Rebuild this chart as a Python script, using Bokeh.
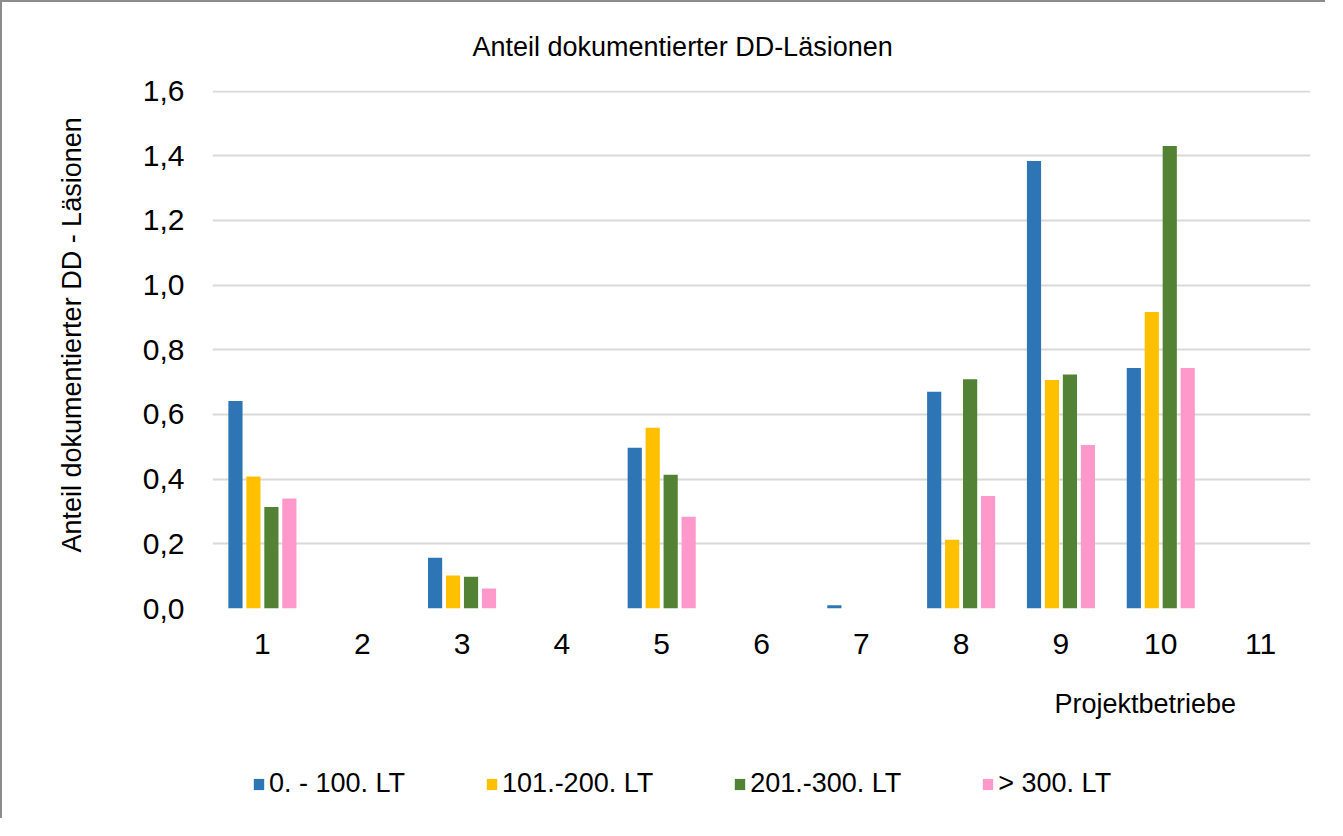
from bokeh.plotting import figure
from bokeh.layouts import column
from bokeh.models import (Range1d, FixedTicker, CustomJSTickFormatter, Legend, LegendItem,
                          Title, ColumnDataSource)
from bokeh.transform import dodge
from bokeh.embed import file_html
from bokeh.resources import INLINE

# ---- data ----
betriebe = [1, 2, 3, 4, 5, 6, 7, 8, 9, 10, 11]
lt_0_100 = [0.642, 0.0, 0.157, 0.0, 0.497, 0.0, 0.010, 0.670, 1.384, 0.744, 0.0]
lt_101_200 = [0.408, 0.0, 0.102, 0.0, 0.559, 0.0, 0.0, 0.213, 0.707, 0.917, 0.0]
lt_201_300 = [0.314, 0.0, 0.098, 0.0, 0.414, 0.0, 0.0, 0.709, 0.724, 1.430, 0.0]
lt_300_plus = [0.340, 0.0, 0.062, 0.0, 0.284, 0.0, 0.0, 0.348, 0.506, 0.744, 0.0]
series_names = ["0. - 100. LT", "101.-200. LT", "201.-300. LT", "> 300. LT"]
series_cols = ["a", "b", "c", "d"]
colors = ["#2E75B6", "#FFC000", "#548235", "#FF99CC"]
y_ticks = [0.0, 0.2, 0.4, 0.6, 0.8, 1.0, 1.2, 1.4, 1.6]

title_text = "Anteil dokumentierter DD-Läsionen"
y_title = "Anteil dokumentierter DD - Läsionen"
x_title = "Projektbetriebe"

FONT = "Liberation Sans"
BORDER = "2px solid #8c8c8c"

src = ColumnDataSource(dict(x=betriebe, a=lt_0_100, b=lt_101_200, c=lt_201_300, d=lt_300_plus))

# ---- main chart ----
p = figure(width=1325, height=752, output_backend="svg", toolbar_location=None,
           x_range=Range1d(0.5, 11.5), y_range=Range1d(0, 1.602),
           min_border_left=210, min_border_right=17, min_border_top=88, min_border_bottom=146)
p.styles = {"border-top": BORDER, "border-left": BORDER}
p.outline_line_color = None
p.background_fill_color = "white"
p.border_fill_color = "white"

offsets = [-0.27, -0.09, 0.09, 0.27]
for col, off, colr in zip(series_cols, offsets, colors):
    p.vbar(x=dodge("x", off, range=p.x_range), top=col, width=0.142, bottom=0,
           source=src, fill_color=colr, line_color=None)

p.xaxis.ticker = FixedTicker(ticks=betriebe)
p.yaxis.ticker = FixedTicker(ticks=y_ticks)
p.yaxis.formatter = CustomJSTickFormatter(code="return tick.toFixed(1).replace('.', ',');")
for ax in (p.xaxis[0], p.yaxis[0]):
    ax.axis_line_color = None
    ax.major_tick_line_color = None
    ax.minor_tick_line_color = None
    ax.major_tick_out = 0
    ax.major_tick_in = 0
    ax.major_label_text_font = FONT
    ax.major_label_text_font_size = "30px"
    ax.major_label_text_color = "#000000"
p.yaxis.major_label_standoff = 28
p.xaxis.major_label_standoff = 25

p.xgrid.grid_line_color = None
p.ygrid.ticker = FixedTicker(ticks=y_ticks)
p.ygrid.grid_line_color = "#d9d9d9"
p.ygrid.grid_line_width = 2

t_top = Title(text=title_text, align="left", offset=260, standoff=55, vertical_align="middle",
              text_font=FONT, text_font_size="27px", text_font_style="normal",
              text_color="#000000")
p.add_layout(t_top, "above")

t_x = Title(text=x_title, align="left", offset=842, standoff=60,
            text_font=FONT, text_font_size="27px", text_font_style="normal",
            text_color="#000000")
p.add_layout(t_x, "below")

t_y = Title(text=y_title, align="left", offset=56, standoff=104, vertical_align="middle",
            text_font=FONT, text_font_size="27px", text_font_style="normal",
            text_color="#000000")
p.add_layout(t_y, "left")

# ---- legend strip (its frame lines up with the main frame) ----
lg = figure(width=1325, height=66, output_backend="svg", toolbar_location=None,
            x_range=Range1d(0, 1), y_range=Range1d(0, 1), x_axis_type=None, y_axis_type=None,
            min_border=0)
lg.styles = {"border-left": BORDER}
lg.outline_line_color = None
lg.grid.grid_line_color = None
lg.background_fill_color = "white"
lg.border_fill_color = "white"
# one invisible point outside the strip's range so that legend swatches are drawn
leg_src = ColumnDataSource(dict(x=[5.0], top=[0.0]))
items = []
for name, colr in zip(series_names, colors):
    r = lg.vbar(x="x", top="top", width=0.1, source=leg_src, fill_color=colr, line_color=None)
    items.append(LegendItem(label=name, renderers=[r]))
legend = Legend(items=items, orientation="horizontal", location=(40, 19),
                glyph_width=13, glyph_height=14, label_standoff=4, spacing=80,
                padding=0, margin=0, border_line_color=None, background_fill_alpha=0,
                label_text_font=FONT, label_text_font_size="27px", label_text_color="#000000")
lg.add_layout(legend, "center")

layout = column(p, lg, spacing=0)
open("out.html", "w").write(file_html(layout, INLINE))
